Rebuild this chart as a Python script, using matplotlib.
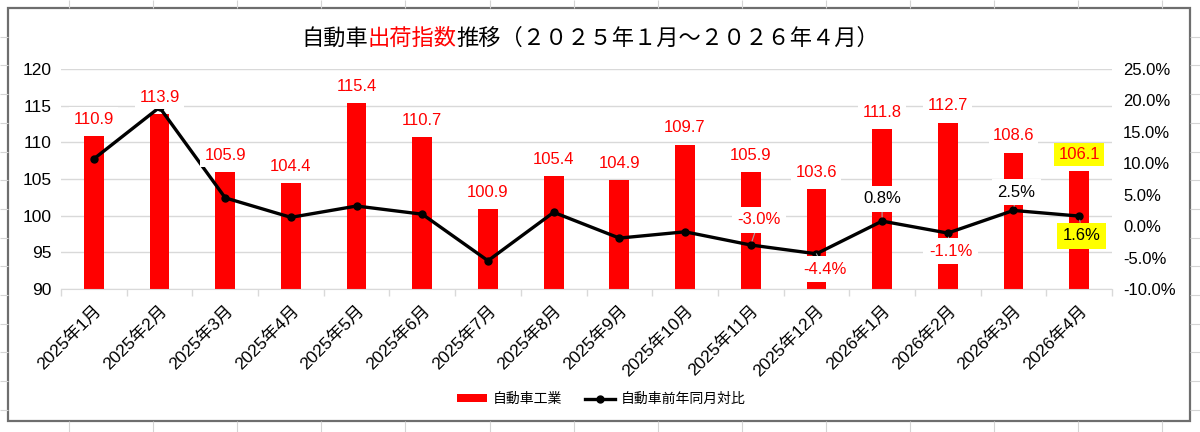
import matplotlib
matplotlib.use("Agg")
import matplotlib.pyplot as plt
from matplotlib.offsetbox import TextArea, HPacker, AnnotationBbox
from matplotlib.patches import Rectangle
from matplotlib.ticker import FixedLocator, FuncFormatter
import numpy as np

plt.rcParams['font.family'] = ['Liberation Sans', 'Noto Sans CJK JP', 'DejaVu Sans']

# data
months = ["2025年1月", "2025年2月", "2025年3月", "2025年4月", "2025年5月",
          "2025年6月", "2025年7月", "2025年8月", "2025年9月", "2025年10月",
          "2025年11月", "2025年12月", "2026年1月", "2026年2月", "2026年3月",
          "2026年4月"]
shipment_index = [110.9, 113.9, 105.9, 104.4, 115.4, 110.7, 100.9, 105.4,
                  104.9, 109.7, 105.9, 103.6, 111.8, 112.7, 108.6, 106.1]
yoy_pct = [10.7, 18.9, 4.5, 1.4, 3.2, 1.9, -5.5, 2.2,
           -1.9, -0.9, -3.0, -4.4, 0.8, -1.1, 2.5, 1.6]

bar_name = "自動車工業"
line_name = "自動車前年同月対比"
title_parts = [("自動車", "black"), ("出荷指数", "#ff0000"),
               ("推移（２０２５年１月～２０２６年４月）", "black")]

RED = "#ff0000"
GRID = "#d9d9d9"
SHEET = "#d4d4d4"
FIRST_LINE_LABEL = 10
# label offsets (points) for the yoy labels, Nov 2025 .. Apr 2026
line_label_offsets = [(6, 18), (6, -11), (0, 16), (2, -13), (2, 13), (2, -14)]

fig = plt.figure(figsize=(12, 4.32), dpi=100)

# spreadsheet cells around the chart + chart frame (pixel coords)
bg = fig.add_axes([0, 0, 1, 1], zorder=-5)
bg.set_xlim(0, 1200)
bg.set_ylim(432, 0)
bg.axis("off")
L, T, R, B = 8, 8, 1190, 421
cols = np.arange(69, 1200, 84.1)
rows = np.arange(T + 28.7, 432, 28.7)
bg.vlines(cols, 0, T, color=SHEET, lw=0.8)
bg.vlines(cols, B, 432, color=SHEET, lw=0.8)
bg.hlines(rows, 0, L, color=SHEET, lw=0.8)
bg.hlines(rows, R, 1200, color=SHEET, lw=0.8)
bg.add_patch(Rectangle((L, T), R - L, B - T, facecolor="white",
                       edgecolor="#6e6e6e", lw=1.6))

ax = fig.add_axes([61 / 1200, 1 - 289 / 432, 1051 / 1200, 220 / 432])
ax.set_facecolor("none")
x = np.arange(len(months))
bars = ax.bar(x, shipment_index, width=0.30, color=RED, zorder=2, label=bar_name)
ax.set_xlim(-0.5, len(months) - 0.5)
ax.set_ylim(90, 120)
ax.set_yticks(np.arange(90, 121, 5))
ax.grid(axis="y", color=GRID, lw=1)
ax.set_axisbelow(True)
for s in ["left", "right", "top"]:
    ax.spines[s].set_visible(False)
ax.spines["bottom"].set_color(GRID)
ax.tick_params(axis="y", length=0, pad=7, labelsize=12.5)
ax.set_xticks(x)
ax.set_xticklabels(months, rotation=45, ha="right", va="top",
                   rotation_mode="anchor", fontsize=12.5)
ax.tick_params(axis="x", which="major", length=0, pad=10)
ax.xaxis.set_minor_locator(FixedLocator(np.arange(-0.5, len(months), 1.0)))
ax.tick_params(axis="x", which="minor", length=5, color=GRID, width=1)

ax2 = ax.twinx()
ax2.set_ylim(-10, 25)
ax2.set_yticks(np.arange(-10, 26, 5))
ax2.yaxis.set_major_formatter(FuncFormatter(lambda v, p: f"{v:.1f}%"))
ax2.tick_params(axis="y", length=0, pad=8, labelsize=12)
for s in ax2.spines.values():
    s.set_visible(False)
line, = ax2.plot(x, yoy_pct, color="black", lw=2.4, marker="o",
                 markersize=5, zorder=3, label=line_name)

# bar value labels (drawn on ax2 so they sit above the line)
for i, v in enumerate(shipment_index):
    fc = "#ffff00" if i == len(months) - 1 else "white"
    ax2.annotate(f"{v:.1f}", (i, v), xycoords=ax.transData,
                 xytext=(0, 12), textcoords="offset points",
                 ha="center", va="center", color=RED, fontsize=12, zorder=5,
                 bbox=dict(facecolor=fc, edgecolor="none", pad=3))

# yoy labels for the latest months
for k, i in enumerate(range(FIRST_LINE_LABEL, len(months))):
    v = yoy_pct[i]
    fc = "#ffff00" if i == len(months) - 1 else "white"
    col = RED if v < 0 else "black"
    ax2.annotate(f"{v:.1f}%", (i, v), xytext=line_label_offsets[k],
                 textcoords="offset points", ha="center", va="center",
                 color=col, fontsize=12, zorder=5,
                 bbox=dict(facecolor=fc, edgecolor="none", pad=4),
                 arrowprops=dict(arrowstyle="-", color="#a6a6a6", lw=0.8,
                                 shrinkA=0, shrinkB=3))

# title with the red middle part
parts = [TextArea(t, textprops=dict(color=c, fontsize=16,
                                     family=["Noto Sans CJK JP"]))
         for t, c in title_parts]
title = HPacker(children=parts, align="center", pad=0, sep=0)
bg.add_artist(AnnotationBbox(title, (0.492, 0.912), xycoords="figure fraction",
                             frameon=False, box_alignment=(0.5, 0.5)))

fig.legend(handles=[bars, line], labels=[bar_name, line_name], loc="center",
           bbox_to_anchor=(0.501, 0.076), ncol=2, frameon=False, fontsize=10,
           handlelength=2.2, handleheight=0.5, handletextpad=0.4,
           columnspacing=1.6)

fig.savefig("out.png", dpi=100)
